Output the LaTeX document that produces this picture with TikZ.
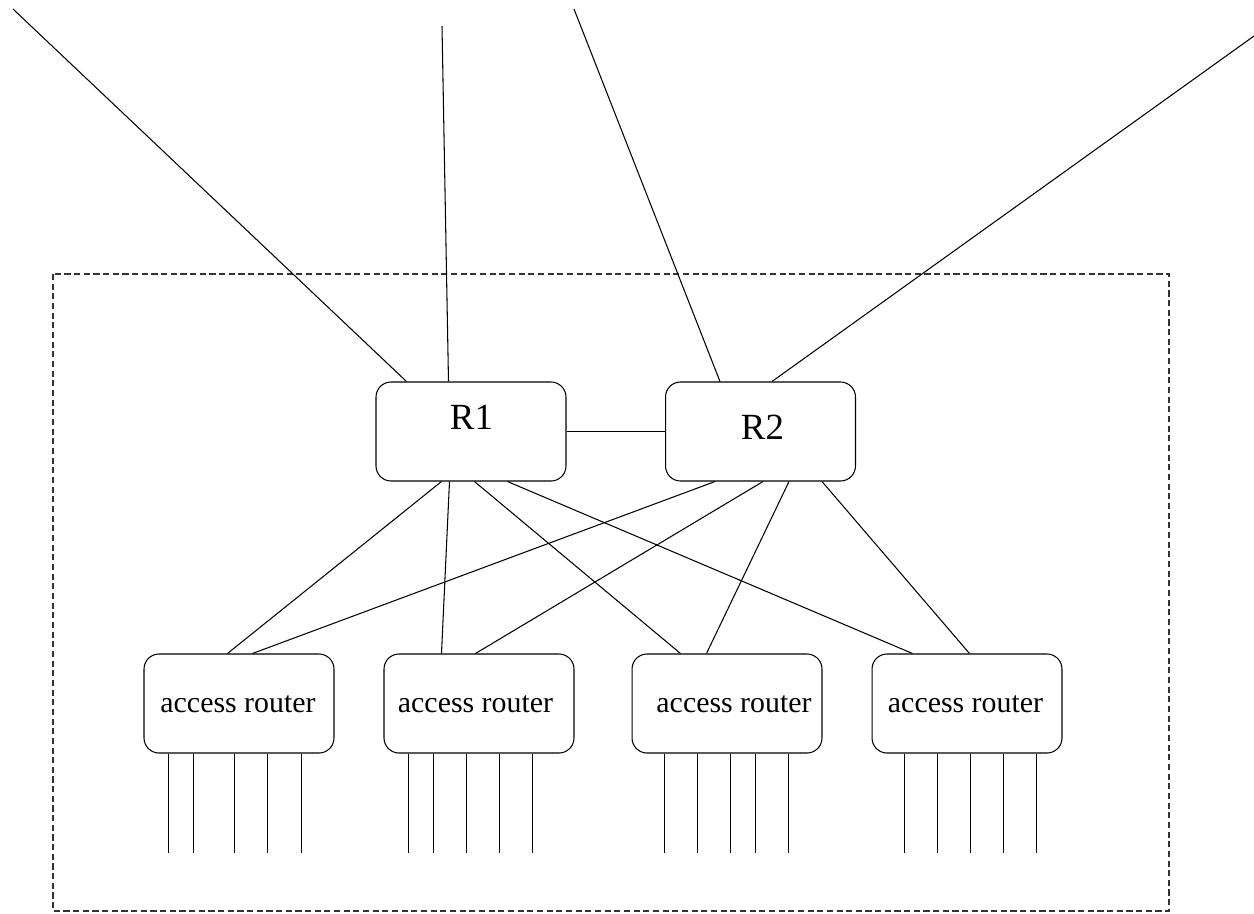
\documentclass[tikz,border=0pt]{standalone}
\usepackage{fontspec}
\setmainfont{Liberation Serif}
\usetikzlibrary{calc}

\begin{document}
\begin{tikzpicture}[x=0.02cm, y=-0.02cm,
    router/.style={draw, rounded corners=0.3cm, line width=0.6pt,
      minimum width=3.8cm, minimum height=1.98cm, inner sep=0pt},
    link/.style={line width=0.6pt},
    core/.style={font=\fontsize{21}{24}\selectfont, inner sep=0pt},
    access/.style={font=\fontsize{17}{20}\selectfont, inner sep=0pt},
    site/.style={dash pattern=on 3.5pt off 2pt, line width=0.6pt, black!80}]
    \useasboundingbox (0,0) rectangle (1254,913);

    % site boundary
    \draw[site] (53,274) rectangle (1169,911);

    % core routers
    \node[router] (r1) at (471,431.5) {};
    \node[router] (r2) at (760.5,431.5) {};
    \node[core] (r1txt) at (471.5,417.5) {R1};
    \node[core] (r2txt) at (762.5,427.5) {R2};
    \draw[link] (r1.east) -- (r2.west);

    % upstream links
    \coordinate (up1) at (13,9);
    \coordinate (up2) at (442,26);
    \coordinate (up3) at (574,9);
    \coordinate (up4) at (1254,36);
    \draw[link] (up1) -- ($(r1.north west)+(31,0)$);
    \draw[link] (up2) -- ($(r1.north west)+(73,0)$);
    \draw[link] (up3) -- ($(r2.north west)+(55,0)$);
    \draw[link] (up4) -- ($(r2.north west)+(107,0)$);

    % access routers
    \foreach \i/\cx/\tx in {1/239/238,2/479/475.5,3/727/734,4/967/965.5} {
      \node[router] (a\i) at (\cx,703.5) {};
      \node[access] (a\i txt) at (\tx,704) {access router};
    }

    % core to access
    \foreach \i/\from/\to in {1/66/84,2/74/58,3/99/49,4/132/41}
      \draw[link] ($(r1.south west)+(\from,0)$) -- ($(a\i.north west)+(\to,0)$);
    \foreach \i/\from/\to in {1/50/109,2/98/92,3/124/75,4/157/98}
      \draw[link] ($(r2.south west)+(\from,0)$) -- ($(a\i.north west)+(\to,0)$);

    % customer lines
    \foreach \i/\offs in {1/{25,50,91,124,158},2/{25,50,83,116,149},
                          3/{33,66,99,124,157},4/{33,66,99,132,165}}
      \foreach \o in \offs
        \draw[link] ($(a\i.south west)+(\o,0)$) -- ++(0,99);
\end{tikzpicture}
\end{document}
